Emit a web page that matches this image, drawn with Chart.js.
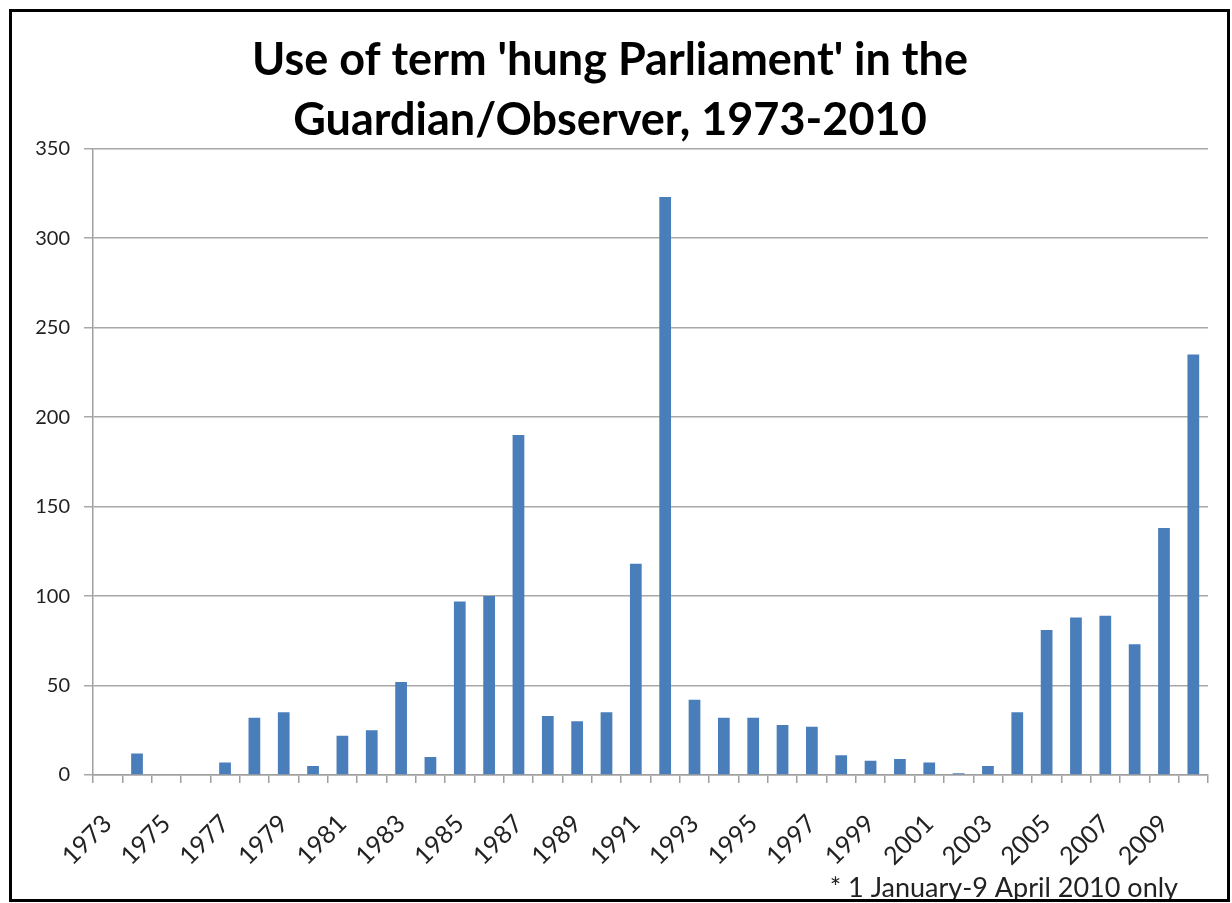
<!DOCTYPE html>
<html>
<head>
<meta charset="utf-8">
<script src="https://cdn.jsdelivr.net/npm/chart.js@4/dist/chart.umd.min.js"></script>
<style>
  body { margin: 0; background: #fff; }
  #frame {
    position: absolute; left: 9px; top: 9px;
    width: 1215px; height: 887px;
    border: 3px solid #000; background: #fff;
  }
  canvas { display: block; }
</style>
</head>
<body>
<div id="frame"><canvas id="chart" width="1215" height="887"></canvas></div>
<script>
const years = ['1973','1974','1975','1976','1977','1978','1979','1980','1981','1982',
  '1983','1984','1985','1986','1987','1988','1989','1990','1991','1992',
  '1993','1994','1995','1996','1997','1998','1999','2000','2001','2002',
  '2003','2004','2005','2006','2007','2008','2009','2010']
const mentions = [0, 12, 0, 0, 7, 32, 35, 5, 22, 25,
  52, 10, 97, 100, 190, 33, 30, 35, 118, 323,
  42, 32, 32, 28, 27, 11, 8, 9, 7, 1,
  5, 35, 81, 88, 89, 73, 138, 235]
const titleLines = ["Use of term 'hung Parliament' in the", 'Guardian/Observer, 1973-2010']
const footnote = '* 1 January-9 April 2010 only'

const FONT = 'Lato, "Open Sans", sans-serif'

// footnote sits bottom right, below the rotated year labels
const footnotePlugin = {
  id: 'footnote',
  afterDraw (chart) {
    const ctx = chart.ctx
    ctx.save()
    ctx.font = '27px ' + FONT
    ctx.fillStyle = '#222'
    ctx.textAlign = 'right'
    ctx.textBaseline = 'alphabetic'
    ctx.fillText(footnote, 1166, 885)
    ctx.restore()
  }
}

new Chart(document.getElementById('chart'), {
  type: 'bar',
  data: {
    labels: years,
    datasets: [{
      data: mentions,
      backgroundColor: '#4a7ebb',
      borderWidth: 0,
      barPercentage: 0.4,
      categoryPercentage: 1
    }]
  },
  options: {
    responsive: false,
    animation: false,
    layout: { padding: { left: 0, right: 19, top: 0, bottom: 0 } },
    plugins: {
      legend: { display: false },
      tooltip: { enabled: false },
      title: {
        display: true,
        text: titleLines,
        color: '#000',
        font: { family: FONT, size: 45, weight: 'bold', lineHeight: 1.33 },
        padding: { top: 19, bottom: -2 }
      }
    },
    scales: {
      x: {
        afterFit (scale) {
          scale.height = 124
          // rotated labels should not squeeze the plot area sideways
          scale.paddingLeft = 0
          scale.paddingRight = 0
        },
        grid: {
          offset: true,
          drawOnChartArea: false,
          drawTicks: true,
          tickLength: 8,
          color: '#a0a0a0',
          lineWidth: 1.5
        },
        border: { color: '#a0a0a0', width: 1.5 },
        ticks: {
          autoSkip: false,
          maxRotation: 45,
          minRotation: 45,
          padding: 26,
          color: '#222',
          font: { family: FONT, size: 25 },
          callback (value, index) {
            return index % 2 === 0 ? years[index] : ''
          }
        }
      },
      y: {
        min: 0,
        max: 350,
        afterFit (scale) { scale.width = 81 },
        grid: {
          color: '#a8a8a8',
          lineWidth: 1.5,
          drawTicks: true,
          tickLength: 9
        },
        border: { color: '#a0a0a0', width: 1.5 },
        ticks: {
          stepSize: 50,
          padding: 14,
          color: '#222',
          font: { family: FONT, size: 20 }
        }
      }
    }
  },
  plugins: [footnotePlugin]
})
</script>
</body>
</html>
